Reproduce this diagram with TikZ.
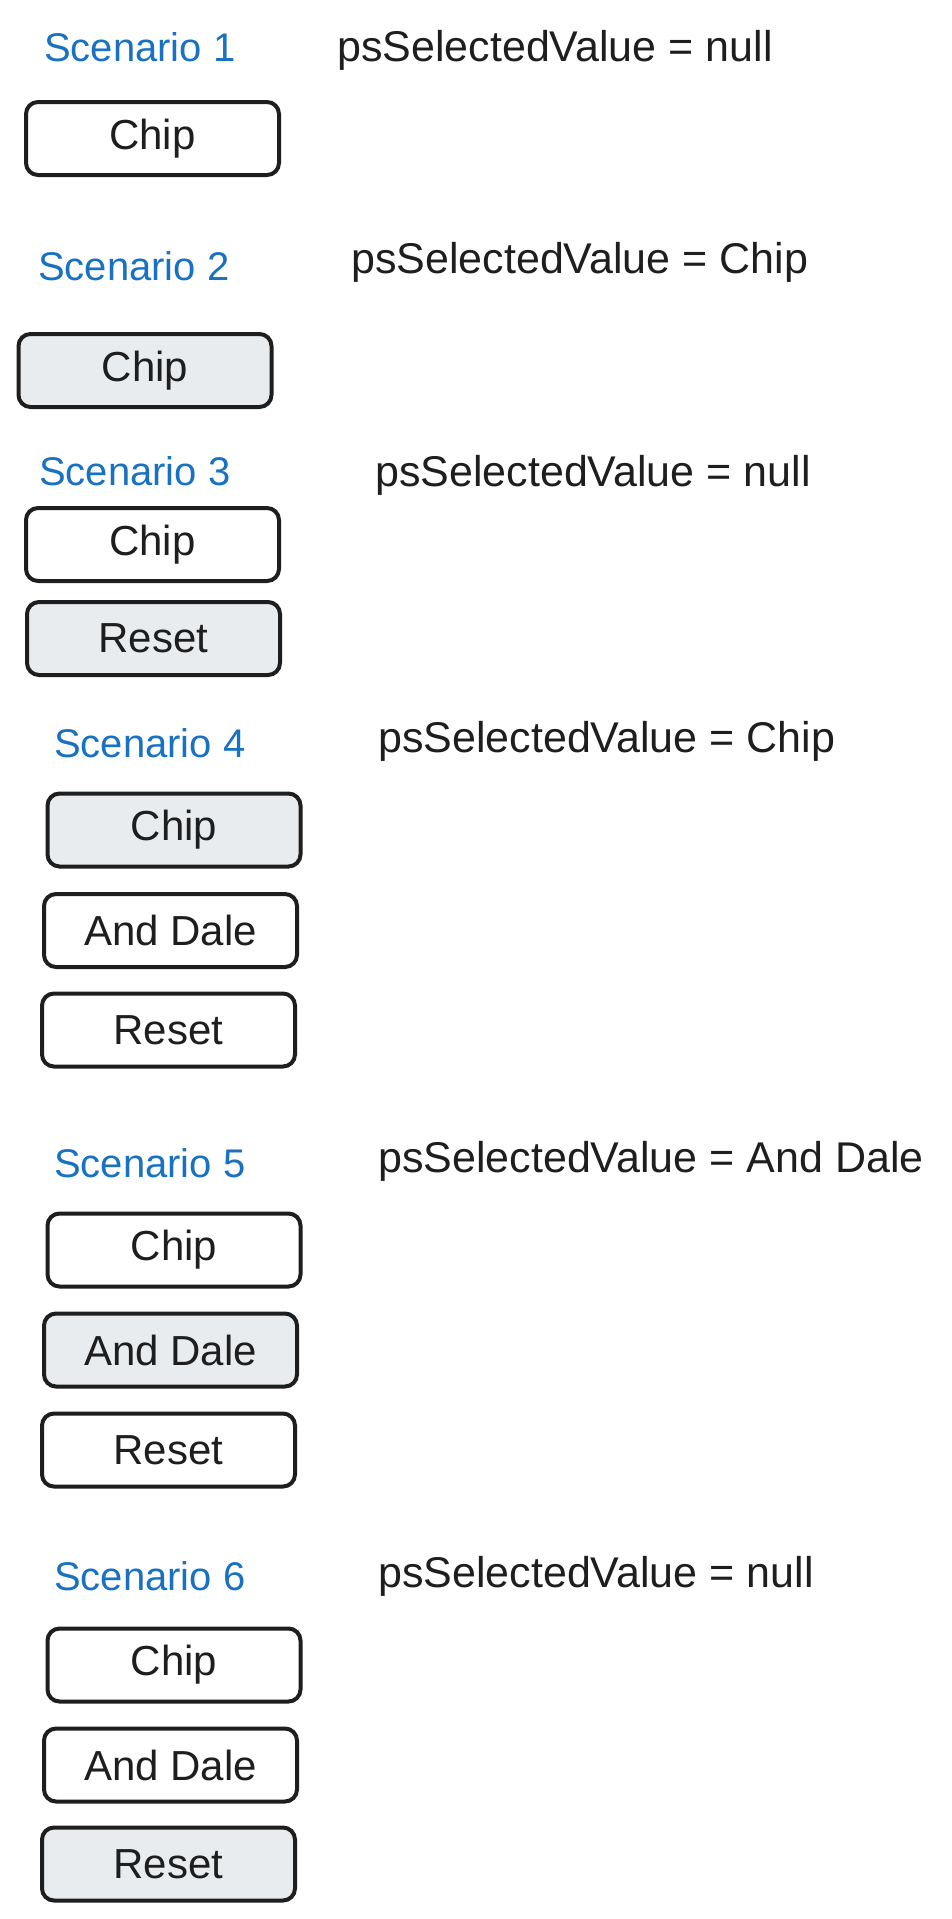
\documentclass[tikz,border=0pt]{standalone}
\usepackage{fontspec}
\setmainfont{Liberation Sans}
\definecolor{scblue}{HTML}{1971C2}
\definecolor{selfill}{HTML}{E9ECEF}
\definecolor{ink}{HTML}{1E1E1E}
\begin{document}
\begin{tikzpicture}[x=1pt,y=-1pt,
  sctitle/.style={anchor=base west,inner sep=0pt,text=scblue,font=\fontsize{40}{44}\selectfont},
  valtext/.style={anchor=base west,inner sep=0pt,text=ink,font=\fontsize{43}{47}\selectfont},
  btn/.style={draw=ink,line width=4pt,rounded corners=12pt,fill=white,
    minimum width=253pt,minimum height=73pt,inner sep=0pt,text=ink,
    font=\fontsize{42}{46}\selectfont},
  selbtn/.style={btn,fill=selfill}]
\useasboundingbox (0,0) rectangle (951,1919);
% Scenario 1
\node[sctitle] (s1) at (44,62) {Scenario 1};
\node[valtext] (v1) at (337,62) {psSelectedValue = null};
\node[btn] (s1chip) at (152.5,138.5) {Chip};
% Scenario 2
\node[sctitle] (s2) at (38,280) {Scenario 2};
\node[valtext] (v2) at (351,273) {psSelectedValue = Chip};
\node[selbtn] (s2chip) at (145,370.5) {Chip};
% Scenario 3
\node[sctitle] (s3) at (39,485) {Scenario 3};
\node[valtext] (v3) at (375,486) {psSelectedValue = null};
\node[btn] (s3chip) at (152.5,544.5) {Chip};
\node[selbtn] (s3reset) at (153.5,638.5) {Reset};
% Scenario 4
\node[sctitle] (s4) at (54,757) {Scenario 4};
\node[valtext] (v4) at (378,752) {psSelectedValue = Chip};
\node[selbtn] (s4chip) at (174,830) {Chip};
\node[btn] (s4dale) at (170.5,930.5) {And Dale};
\node[btn] (s4reset) at (168.5,1030) {Reset};
% Scenario 5
\node[sctitle] (s5) at (54,1177) {Scenario 5};
\node[valtext] (v5) at (378,1172) {psSelectedValue = And Dale};
\node[btn] (s5chip) at (174,1250) {Chip};
\node[selbtn] (s5dale) at (170.5,1350) {And Dale};
\node[btn] (s5reset) at (168.5,1450) {Reset};
% Scenario 6
\node[sctitle] (s6) at (54,1590) {Scenario 6};
\node[valtext] (v6) at (378,1587) {psSelectedValue = null};
\node[btn] (s6chip) at (174,1665) {Chip};
\node[btn] (s6dale) at (170.5,1765) {And Dale};
\node[selbtn] (s6reset) at (168.5,1864) {Reset};
\end{tikzpicture}
\end{document}
